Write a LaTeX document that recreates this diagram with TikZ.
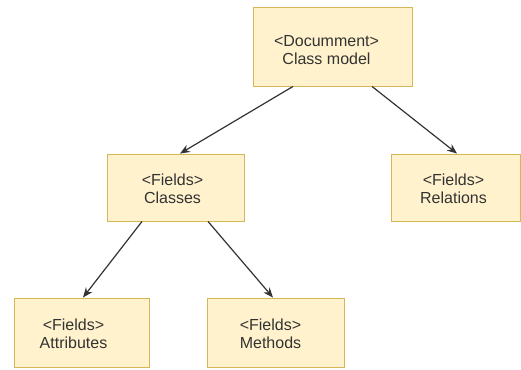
\documentclass[tikz,border=0pt]{standalone}
\usepackage{fontspec}
\setmainfont{Liberation Sans}
\usetikzlibrary{arrows.meta}

\definecolor{boxfill}{HTML}{FFF2CC}
\definecolor{boxline}{HTML}{D6B656}
\definecolor{ink}{HTML}{333333}

\begin{document}
\begin{tikzpicture}[
    x=1pt, y=-1pt,
    field/.style={rectangle, draw=boxline, fill=boxfill, line width=0.9pt,
        align=center, text=ink, font=\fontsize{16}{18}\selectfont, inner sep=0pt},
    link/.style={draw=ink, line width=1.2pt, -{Stealth[length=10pt, width=8pt]}},
]

% page frame
\useasboundingbox (0,0) rectangle (521,369);

% Draw the tree
\node[field, minimum width=159pt, minimum height=79pt] (doc) at (332.5, 46.5) {};
\node[field, minimum width=137pt, minimum height=67pt] (cls) at (175.5, 187.5) {};
\node[field, minimum width=129pt, minimum height=67pt] (rel) at (455.5, 187.5) {};
\node[field, minimum width=135pt, minimum height=69pt] (att) at (81.5, 332.5) {};
\node[field, minimum width=137pt, minimum height=69pt] (met) at (275.5, 332.5) {};

% labels sit a little left of centre
\node[field, draw=none, fill=none] (doctext) at ([xshift=-6pt, yshift=-4pt]doc.center) {<Documment>\\Class model};
\node[field, draw=none, fill=none] (clstext) at ([xshift=-3pt, yshift=-1pt]cls.center) {<Fields>\\Classes};
\node[field, draw=none, fill=none] (reltext) at ([xshift=-2pt, yshift=-1pt]rel.center) {<Fields>\\Relations};
\node[field, draw=none, fill=none] (atttext) at ([xshift=-8pt, yshift=-1pt]att.center) {<Fields>\\Attributes};
\node[field, draw=none, fill=none] (mettext) at ([xshift=-5pt, yshift=-1pt]met.center) {<Fields>\\Methods};

\draw[link] ([xshift=-39.5pt]doc.south) -- ([xshift=4.5pt]cls.north);
\draw[link] ([xshift=39.5pt]doc.south) -- ([xshift=1.5pt]rel.north);
\draw[link] ([xshift=-33.5pt]cls.south) -- ([xshift=1.5pt]att.north);
\draw[link] ([xshift=32.5pt]cls.south) -- ([xshift=-2.5pt]met.north);

\end{tikzpicture}
\end{document}
